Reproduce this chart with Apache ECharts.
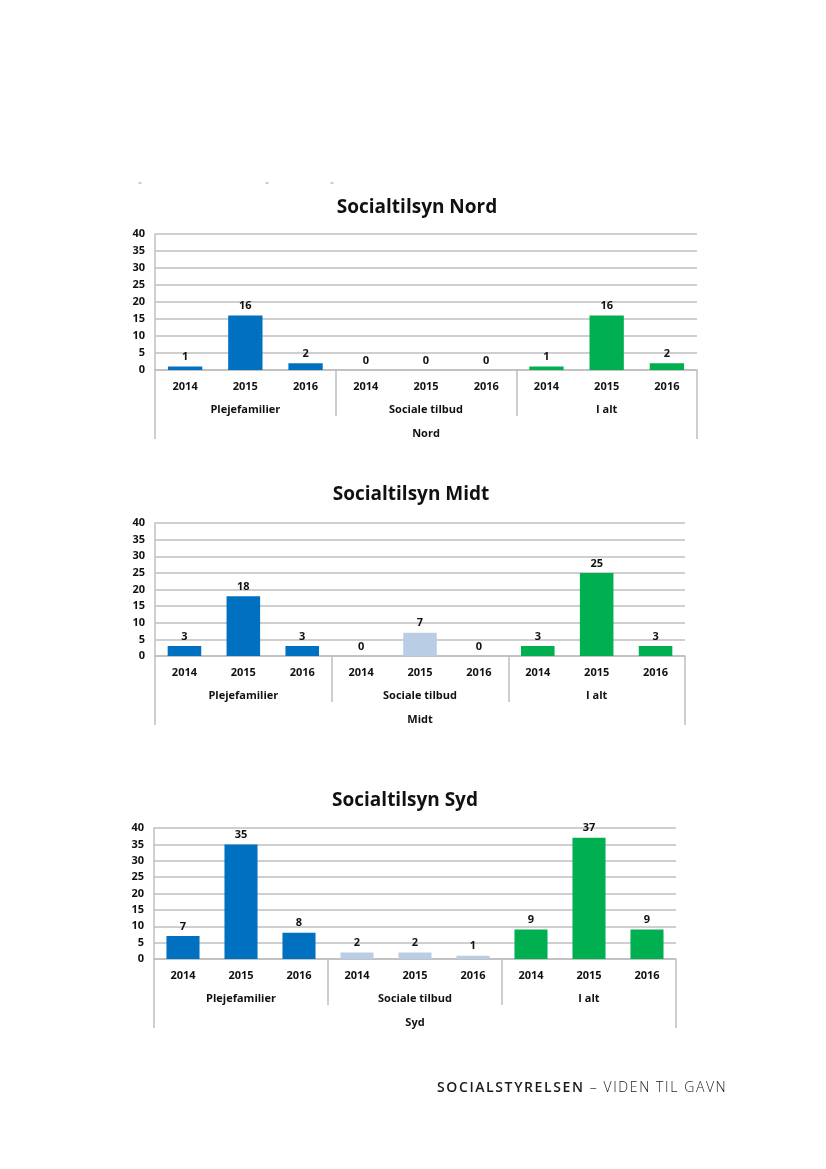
<!DOCTYPE html>
<html>
<head>
<meta charset="utf-8">
<script src="https://cdn.jsdelivr.net/npm/echarts@6/dist/echarts.min.js"></script>
<style>
html,body{margin:0;padding:0;background:#fff;}
#chart{position:absolute;left:0;top:0;width:826px;height:1169px;}
#footer{position:absolute;left:437px;top:1077px;font-family:"Open Sans",sans-serif;font-size:14px;letter-spacing:1.6px;color:#1a1a1a;white-space:nowrap;}
#footer b{font-weight:600;}
#footer span{font-weight:300;}
</style>
</head>
<body>
<div id="chart"></div>
<div id="footer"><b>SOCIALSTYRELSEN</b><span> – VIDEN TIL GAVN</span></div>
<script>
// ---- data ----
const years = ['2014', '2015', '2016'];
const groups = ['Plejefamilier', 'Sociale tilbud', 'I alt'];
const regions = ['Nord', 'Midt', 'Syd'];
const titles = ['Socialtilsyn Nord', 'Socialtilsyn Midt', 'Socialtilsyn Syd'];
const nordValues = [1, 16, 2, 0, 0, 0, 1, 16, 2];
const midtValues = [3, 18, 3, 0, 7, 0, 3, 25, 3];
const sydValues = [7, 35, 8, 2, 2, 1, 9, 37, 9];
const yMin = 0, yMax = 40, yStep = 5;

// ---- styling / layout ----
const groupColors = ['#0070C0', '#B9CDE5', '#00B050'];
const allValues = [nordValues, midtValues, sydValues];
const layouts = [
  {left: 155, right: 697, top: 234, bottom: 370, titleX: 417, titleY: 208},
  {left: 155, right: 685, top: 523, bottom: 656, titleX: 411, titleY: 495},
  {left: 154, right: 676, top: 828, bottom: 959, titleX: 405, titleY: 801}
];
const gridColor = '#BFBFBF';
const txt = {fontFamily: 'Open Sans', fontWeight: 'bold', fontSize: 11, color: '#111'};
const yearCats = [];
groups.forEach(() => years.forEach(y => yearCats.push(y)));

const grid = [], xAxis = [], yAxis = [], series = [], graphic = [];
layouts.forEach((l, i) => {
  grid.push({left: l.left, top: l.top, width: l.right - l.left, height: l.bottom - l.top});
  xAxis.push({
    type: 'category', gridIndex: i, position: 'bottom', data: yearCats,
    axisLine: {show: true, lineStyle: {color: gridColor, width: 1.5}},
    axisTick: {show: false},
    axisLabel: Object.assign({interval: 0, margin: 11}, txt)
  });
  xAxis.push({
    type: 'category', gridIndex: i, position: 'bottom', data: groups,
    axisLine: {show: false},
    axisTick: {show: true, length: 46, lineStyle: {color: gridColor, width: 1.5}},
    axisLabel: Object.assign({interval: 0, margin: 34}, txt)
  });
  xAxis.push({
    type: 'category', gridIndex: i, position: 'bottom', data: [regions[i]],
    axisLine: {show: false},
    axisTick: {show: true, length: 69, lineStyle: {color: gridColor, width: 1.5}},
    axisLabel: Object.assign({interval: 0, margin: 58}, txt)
  });
  yAxis.push({
    type: 'value', gridIndex: i, min: yMin, max: yMax, interval: yStep,
    axisLine: {show: true, lineStyle: {color: gridColor, width: 1.5}},
    axisTick: {show: false},
    splitLine: {show: true, lineStyle: {color: gridColor, width: 1.5}},
    axisLabel: Object.assign({margin: 10}, txt)
  });
  series.push({
    type: 'bar', xAxisIndex: i * 3, yAxisIndex: i, barWidth: '57%',
    data: allValues[i].map((v, k) => ({value: v, itemStyle: {color: groupColors[Math.floor(k / years.length)]}})),
    label: Object.assign({show: true, position: 'top', distance: 4}, txt),
    animation: false
  });
  graphic.push({
    type: 'text', x: l.titleX, y: l.titleY,
    style: {text: titles[i], fontFamily: 'Open Sans', fontWeight: 'bold', fontSize: 19, fill: '#111', align: 'center', verticalAlign: 'middle'}
  });
});
// faint remnant marks above first chart
[140, 267, 332].forEach(x => graphic.push({
  type: 'line', shape: {x1: x - 1.5, y1: 183, x2: x + 1.5, y2: 183}, style: {stroke: '#999', lineWidth: 1}
}));

const chart = echarts.init(document.getElementById('chart'), null, {renderer: 'canvas'});
chart.setOption({animation: false, grid, xAxis, yAxis, series, graphic});
</script>
</body>
</html>
